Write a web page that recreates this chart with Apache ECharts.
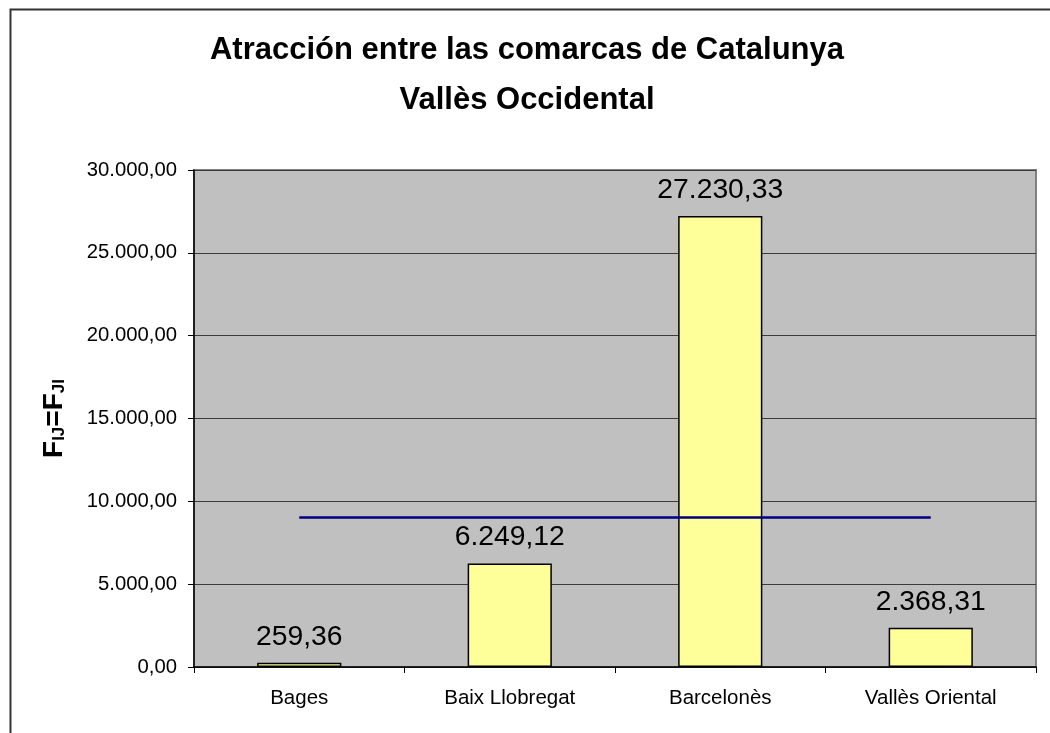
<!DOCTYPE html>
<html>
<head>
<meta charset="utf-8">
<script src="https://cdn.jsdelivr.net/npm/echarts@6/dist/echarts.min.js"></script>
<style>
  html, body { margin: 0; padding: 0; background: #fff; }
  #chart { width: 1050px; height: 733px; }
</style>
</head>
<body>
<div id="chart"></div>
<script>
// Comarques and their attraction value with Vallès Occidental
const categories = ['Bages', 'Baix Llobregat', 'Barcelonès', 'Vallès Oriental'];
const attraction = [259.36, 6249.12, 27230.33, 2368.31];
// Average attraction, drawn as a flat reference line across the comarques
const averageLine = [9026.78, 9026.78, 9026.78, 9026.78];
const titleLines = ['Atracción entre las comarcas de Catalunya', 'Vallès Occidental'];
const yMin = 0, yMax = 30000, yStep = 5000;

const FONT = '"Liberation Sans", Arial, sans-serif';

// Spanish-style number: dot for thousands, comma for decimals
function fmt(v) {
  const parts = Number(v).toFixed(2).split('.');
  parts[0] = parts[0].replace(/\B(?=(\d{3})+(?!\d))/g, '.');
  return parts[0] + ',' + parts[1];
}

const chart = echarts.init(document.getElementById('chart'));
chart.setOption({
  animation: false,
  backgroundColor: '#ffffff',
  textStyle: { fontFamily: FONT },
  graphic: [{
    type: 'rect',
    left: 8, top: 7,
    shape: { width: 1100, height: 800 },
    style: { fill: 'none', stroke: '#333', lineWidth: 2 },
    silent: true, z: 100
  }],
  title: {
    text: titleLines.join('\n'),
    left: 527,
    textAlign: 'center',
    top: 25,
    padding: 0,
    textStyle: { fontFamily: FONT, fontSize: 31, fontWeight: 'bold', color: '#000', lineHeight: 50 }
  },
  grid: {
    left: 194, top: 170, right: 14, bottom: 66,
    show: true, backgroundColor: '#C0C0C0', borderColor: '#808080', borderWidth: 2
  },
  xAxis: {
    type: 'category',
    data: categories,
    boundaryGap: true,
    axisLine: { lineStyle: { color: '#000', width: 1.5 } },
    axisTick: { show: true, alignWithLabel: false, length: 6, lineStyle: { color: '#000' } },
    axisLabel: { color: '#000', fontSize: 20.5, fontFamily: FONT, margin: 21 },
    splitLine: { show: false }
  },
  yAxis: {
    type: 'value',
    min: yMin, max: yMax, interval: yStep,
    name: '{b|F}{s|IJ}{b|=F}{s|JI}',
    nameLocation: 'middle',
    nameGap: 126,
    nameRotate: 90,
    nameTextStyle: {
      rich: {
        b: { fontFamily: FONT, fontSize: 28, fontWeight: 'bold', color: '#000', verticalAlign: 'bottom' },
        s: { fontFamily: FONT, fontSize: 17, fontWeight: 'bold', color: '#000', verticalAlign: 'bottom' }
      }
    },
    axisLine: { show: true, lineStyle: { color: '#000', width: 1.5 } },
    axisTick: { show: true, length: 6, lineStyle: { color: '#000' } },
    axisLabel: { color: '#000', fontSize: 20.3, fontFamily: FONT, margin: 17, formatter: fmt },
    splitLine: { show: true, lineStyle: { color: '#3c3c3c', width: 1 } }
  },
  series: [{
    type: 'bar',
    data: attraction,
    barWidth: '40%',
    itemStyle: { color: '#FFFF99', borderColor: '#000', borderWidth: 1.5 },
    label: {
      show: true, position: 'top', distance: 12,
      fontFamily: FONT, fontSize: 28.3, color: '#000',
      formatter: p => fmt(p.value)
    },
    z: 2
  }, {
    type: 'line',
    data: averageLine,
    symbol: 'none',
    lineStyle: { color: '#000080', width: 2.5 },
    z: 3
  }]
});
</script>
</body>
</html>
